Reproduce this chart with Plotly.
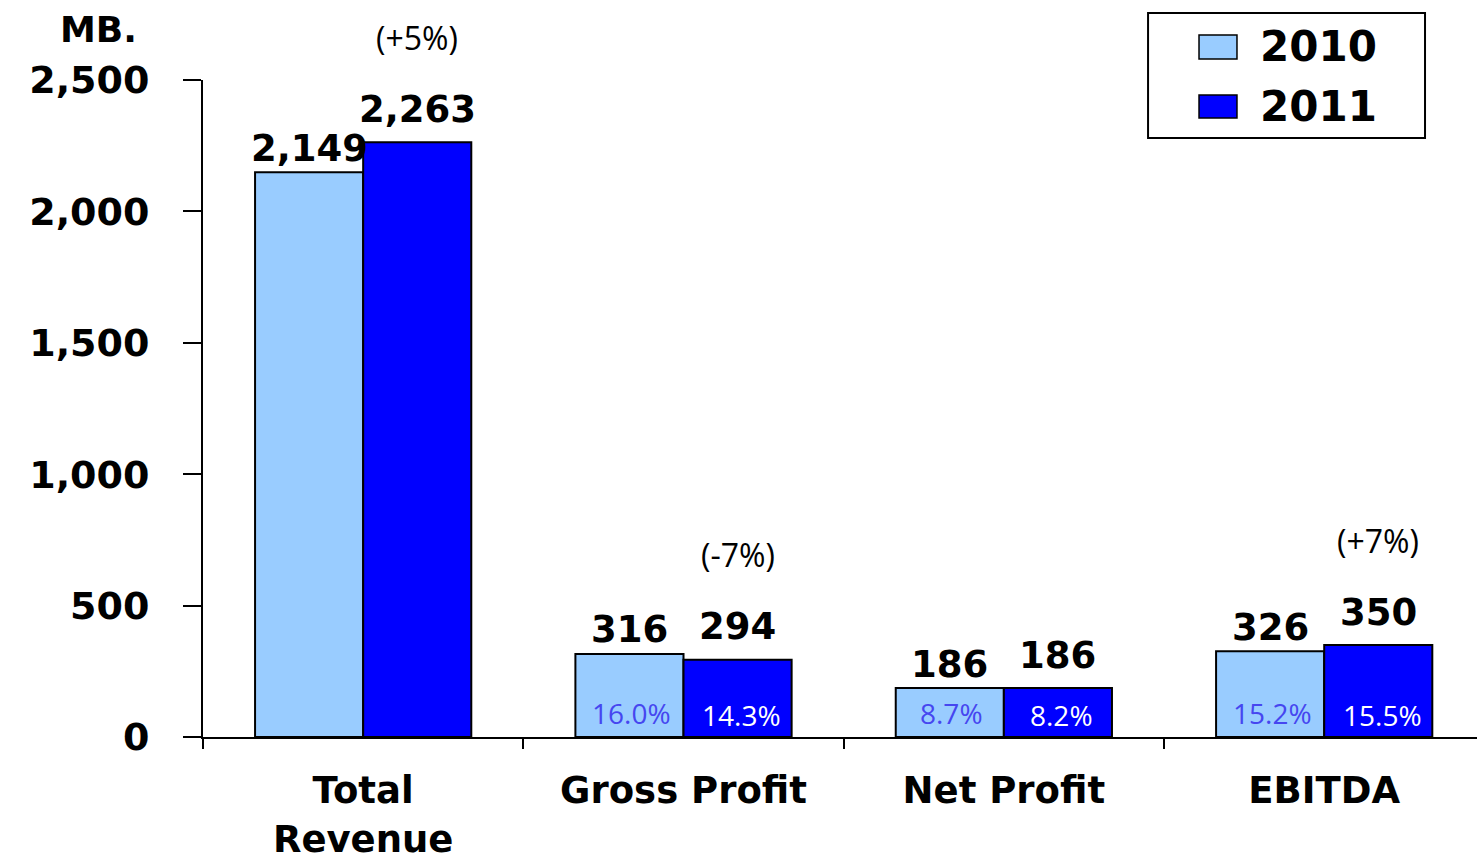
import plotly.graph_objects as go

categories = ["Total<br>Revenue", "Gross Profit", "Net Profit", "EBITDA"]
values_2010 = [2149, 316, 186, 326]
values_2011 = [2263, 294, 186, 350]
margin_2010 = ["", "16.0%", "8.7%", "15.2%"]
margin_2011 = ["", "14.3%", "8.2%", "15.5%"]
growth_labels = ["(+5%)", "(-7%)", "", "(+7%)"]
series_names = ["2010", "2011"]
y_ticks = [0, 500, 1000, 1500, 2000, 2500]

LIGHT = "#99CCFF"
DARK = "#0000FF"
BOLD = dict(family="DejaVu Sans", weight="bold", color="black")
REG = "Open Sans"

fig = go.Figure()
fig.add_trace(go.Bar(x=categories, y=values_2010, name=series_names[0],
                     marker=dict(color=LIGHT, line=dict(color="black", width=2))))
fig.add_trace(go.Bar(x=categories, y=values_2011, name=series_names[1],
                     marker=dict(color=DARK, line=dict(color="black", width=2))))

ann = []
half = 54
for c, v1, v2, m1, m2, g in zip(categories, values_2010, values_2011, margin_2010, margin_2011, growth_labels):
    ann.append(dict(x=c, y=v1, xref="x", yref="y", xshift=-half, yshift=24, text=f"{v1:,}",
                    showarrow=False, font=dict(size=37, **BOLD)))
    ann.append(dict(x=c, y=v2, xref="x", yref="y", xshift=half, yshift=33, text=f"{v2:,}",
                    showarrow=False, font=dict(size=37, **BOLD)))
    if m1:
        ann.append(dict(x=c, y=0, xref="x", yref="y", xshift=-half + 2, yshift=24, text=m1,
                        showarrow=False, font=dict(family=REG, size=28, color="#4646F0")))
    if m2:
        ann.append(dict(x=c, y=0, xref="x", yref="y", xshift=half + 4, yshift=22, text=m2,
                        showarrow=False, font=dict(family=REG, size=28, color="white")))
    if g:
        ann.append(dict(x=c, y=v2, xref="x", yref="y", xshift=half, yshift=105, text=g,
                        showarrow=False, font=dict(family=REG, size=32, color="black")))

ann.append(dict(x=-0.082, y=1.077, xref="paper", yref="paper", xanchor="center", yanchor="middle",
                text="MB.", showarrow=False, font=dict(size=36, **BOLD)))

# legend (drawn in paper coordinates)
shapes = [dict(type="rect", xref="paper", yref="paper", x0=0.7418, x1=0.9592, y0=0.9117, y1=1.102,
               line=dict(color="black", width=2), fillcolor="white", layer="above")]
leg_colors = [LIGHT, DARK]
leg_rows = [(1.0685, 1.032), (0.9772, 0.9422)]
for name, col, (ya, yb) in zip(series_names, leg_colors, leg_rows):
    shapes.append(dict(type="rect", xref="paper", yref="paper", x0=0.7818, x1=0.8116, y0=yb, y1=ya,
                       line=dict(color="black", width=1.5), fillcolor=col, layer="above"))
    ann.append(dict(x=0.8281, y=(ya + yb) / 2, xref="paper", yref="paper", xanchor="left",
                    yanchor="middle", text=name, showarrow=False, font=dict(size=42, **BOLD)))

fig.update_layout(
    width=1477, height=863,
    margin=dict(l=203, r=0, t=80, b=126, autoexpand=False),
    paper_bgcolor="white", plot_bgcolor="white",
    barmode="group", bargap=0.325, bargroupgap=0,
    annotations=ann, shapes=shapes,
    showlegend=False,
    xaxis=dict(type="category", range=[-0.5, 3.477], showline=True, linecolor="black", linewidth=2,
               ticks="outside", tickson="boundaries", ticklen=10, tickwidth=2, tickcolor="black",
               ticklabelstandoff=20, showgrid=False, automargin=False,
               tickfont=dict(size=37, **BOLD)),
    yaxis=dict(range=[0, 2500], tickvals=y_ticks, tickformat=",", showline=True, linecolor="black",
               linewidth=2, ticks="outside", ticklen=18, tickwidth=2, tickcolor="black",
               ticklabelstandoff=26, showgrid=False, zeroline=False, automargin=False,
               tickfont=dict(size=38, **BOLD)),
)

fig.write_html("out.html", config={"displayModeBar": False},
               post_script="document.body.style.margin='0';document.body.style.overflow='hidden';")
